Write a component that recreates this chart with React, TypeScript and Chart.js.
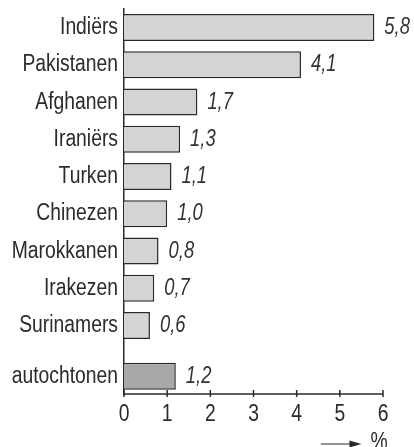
import React, { useEffect, useRef } from "react";
import { Chart, registerables } from "chart.js";

Chart.register(...registerables);

const categories = [
  "Indiërs",
  "Pakistanen",
  "Afghanen",
  "Iraniërs",
  "Turken",
  "Chinezen",
  "Marokkanen",
  "Irakezen",
  "Surinamers",
  "autochtonen",
];
const values = [5.8, 4.1, 1.7, 1.3, 1.1, 1.0, 0.8, 0.7, 0.6, 1.2];
const xTicks = [0, 1, 2, 3, 4, 5, 6];
const unitLabel = "%";

const FONT = "'Liberation Sans', Arial, sans-serif";
const SQUEEZE = 0.84;
const LIGHT = "#d3d4d6";
const DARK = "#a8a8aa";
const INK = "#2a2a2a";
const TEXT = "#2b2b2b";

// positions on the category axis: the last group sits after a small gap
const positions = categories.map((_, i) => (i < categories.length - 1 ? i : i + 0.36));

function squeezedText(ctx: CanvasRenderingContext2D, text: string, x: number, y: number, align: CanvasTextAlign, font: string, sx = SQUEEZE) {
  ctx.save();
  ctx.translate(x, y);
  ctx.scale(sx, 1);
  ctx.font = font;
  ctx.textAlign = align;
  ctx.textBaseline = "alphabetic";
  ctx.fillText(text, 0, 0);
  ctx.restore();
}

const decorPlugin = {
  id: "decor",
  afterDatasetsDraw(chart: any) {
    const ctx = chart.ctx;
    const meta = chart.getDatasetMeta(0);
    ctx.save();
    ctx.fillStyle = "#333";
    meta.data.forEach((bar: any, i: number) => {
      squeezedText(ctx, values[i].toFixed(1).replace(".", ","), bar.x + 10, bar.y + 6.5, "left", `italic 23px ${FONT}`, 0.8);
    });
    ctx.restore();
  },
  afterDraw(chart: any) {
    const ctx = chart.ctx;
    const xs = chart.scales.x;
    const ys = chart.scales.y;
    const ca = chart.chartArea;
    const bottom = ca.bottom;
    ctx.save();
    ctx.fillStyle = TEXT;
    // category labels
    ys.ticks.forEach((t: any, i: number) => {
      const py = ys.getPixelForValue(t.value);
      squeezedText(ctx, categories[i], ca.left - 6, py + 6.5, "right", `23px ${FONT}`);
    });
    // x axis line and ticks
    ctx.strokeStyle = INK;
    ctx.lineWidth = 1.5;
    ctx.beginPath();
    ctx.moveTo(ca.left, bottom);
    ctx.lineTo(xs.getPixelForValue(6), bottom);
    ctx.stroke();
    xTicks.forEach((t) => {
      const px = xs.getPixelForValue(t);
      ctx.beginPath();
      ctx.moveTo(px, bottom - 4);
      ctx.lineTo(px, bottom + 3);
      ctx.stroke();
      squeezedText(ctx, String(t), px, bottom + 27, "center", `23px ${FONT}`);
    });
    // arrow
    const ay = 444;
    const ax0 = xs.getPixelForValue(4.56);
    const ax1 = xs.getPixelForValue(5.5);
    ctx.lineWidth = 1.2;
    ctx.beginPath();
    ctx.moveTo(ax0, ay);
    ctx.lineTo(ax1 - 6, ay);
    ctx.stroke();
    ctx.fillStyle = INK;
    ctx.beginPath();
    ctx.moveTo(ax1, ay);
    ctx.lineTo(ax1 - 12, ay - 3.5);
    ctx.lineTo(ax1 - 12, ay + 3.5);
    ctx.closePath();
    ctx.fill();
    ctx.fillStyle = TEXT;
    squeezedText(ctx, unitLabel, ax1 + 9, 449, "left", `23px ${FONT}`);
    ctx.restore();
  },
};

export default function App() {
  const ref = useRef<HTMLCanvasElement>(null);
  useEffect(() => {
    document.body.style.margin = "0";
    const chart = new Chart(ref.current!, {
      type: "bar",
      data: {
        datasets: [
          {
            data: values.map((v, i) => ({ x: v, y: positions[i] })),
            backgroundColor: values.map((_, i) => (i === values.length - 1 ? DARK : LIGHT)),
            borderColor: INK,
            borderWidth: 1.5,
            borderSkipped: "left",
            barPercentage: 0.725,
            categoryPercentage: 1,
          },
        ],
      },
      plugins: [decorPlugin],
      options: {
        indexAxis: "y",
        animation: false,
        responsive: false,
        devicePixelRatio: 1,
        layout: { padding: { top: 9, right: 31, left: 0, bottom: 0 } },
        plugins: { legend: { display: false }, tooltip: { enabled: false } },
        scales: {
          x: {
            type: "linear",
            bounds: "data",
            offset: false,
            min: 0,
            max: 6,
            grid: { display: false },
            border: { display: false },
            afterBuildTicks: (s: any) => {
              s.ticks = xTicks.map((v) => ({ value: v }));
            },
            afterFit: (s: any) => {
              s.height = 53;
              s.paddingLeft = 0;
              s.paddingRight = 0;
            },
            ticks: { display: false },
          },
          y: {
            type: "linear",
            bounds: "data",
            offset: false,
            reverse: true,
            min: -0.5,
            max: 9.84,
            grid: { display: false, offset: false },
            border: { display: true, color: INK, width: 1.5 },
            afterBuildTicks: (s: any) => {
              s.ticks = positions.map((v) => ({ value: v }));
            },
            afterFit: (s: any) => {
              s.width = 124;
              s.paddingTop = 0;
              s.paddingBottom = 0;
            },
            ticks: { display: false, autoSkip: false },
          },
        },
      },
    } as any);
    return () => chart.destroy();
  }, []);
  return (
    <div style={{ position: "fixed", left: 0, top: 0, width: 414, height: 447 }}>
      <canvas ref={ref} width={414} height={447} style={{ width: 414, height: 447 }} />
    </div>
  );
}
